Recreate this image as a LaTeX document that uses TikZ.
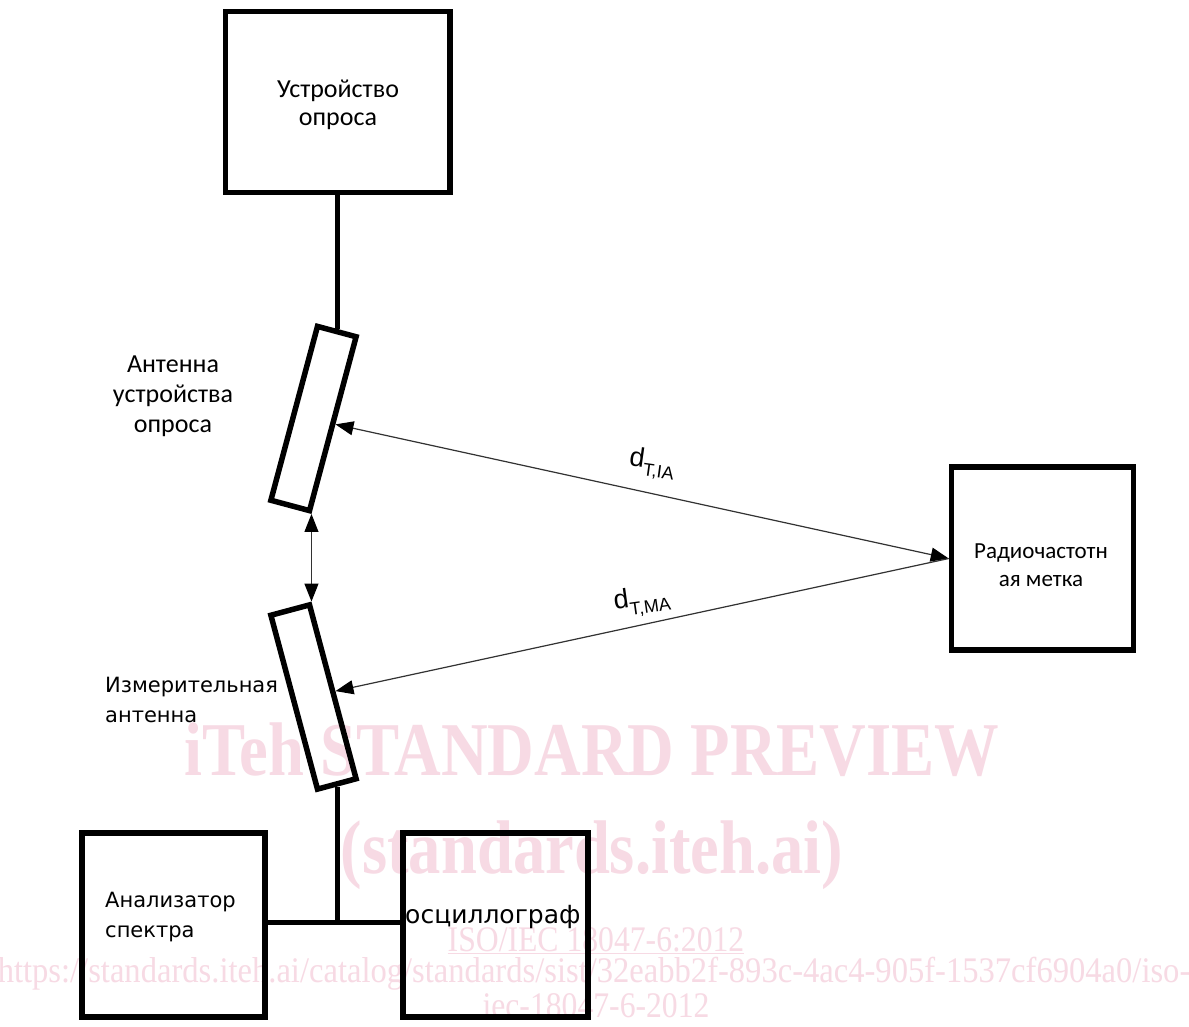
\documentclass[tikz,border=0pt]{standalone}
\usepackage{fontspec}
\setmainfont{Carlito}
\newfontfamily\verd{DejaVu Sans}
\newfontfamily\arialf{Liberation Sans}
\newfontfamily\timesf{Liberation Serif}
\usetikzlibrary{arrows.meta}
\definecolor{wm}{RGB}{247,218,228}
\definecolor{thin}{RGB}{50,50,50}
\begin{document}
\begin{tikzpicture}[x=1pt,y=-1pt,
  box/.style={draw=black, line width=5.5pt, inner sep=0pt, fill=none},
  ant/.style={draw=black, line width=5.5pt, inner sep=0pt, minimum width=40pt, minimum height=180pt},
  wire/.style={line width=5pt, black},
  link/.style={draw=thin, line width=1.2pt, {Triangle[length=18pt,width=14pt,black]}-{Triangle[length=18pt,width=14pt,black]}},
  linkr/.style={draw=thin, line width=1.2pt, {Triangle[length=18pt,width=14pt,black]}-},
  lbl/.style={inner sep=0pt, align=center},
  wmbig/.style={text=wm, inner sep=0pt, font=\timesf\bfseries\fontsize{76}{80}\selectfont, xscale=0.85},
  wmsmall/.style={text=wm, inner sep=0pt, font=\timesf\fontsize{36}{40}\selectfont, xscale=0.88},
  wmurl/.style={text=wm, inner sep=0pt, font=\timesf\fontsize{36}{40}\selectfont, xscale=0.905}
]
\useasboundingbox[fill=white] (0,0) rectangle (1189,1026);

% watermark
\node[wmbig] (wm1) at (592,750) {iTeh STANDARD PREVIEW};
\node[wmbig] (wm2) at (592,855) {(standards.iteh.ai)};
\node[wmsmall] (wm3) at (596,941) {\underline{ISO/IEC 18047-6:2012}};
\node[wmurl] (wm4) at (594,974) {https://standards.iteh.ai/catalog/standards/sist/32eabb2f-893c-4ac4-905f-1537cf6904a0/iso-};
\node[wmsmall] (wm5) at (596,1006) {iec-18047-6-2012};

% boxes
\node[box, minimum width=224.5pt, minimum height=181pt] (dev) at (337.75,102) {};
\node[box, minimum width=182pt, minimum height=183pt] (tag) at (1042.5,558.5) {};
\node[box, minimum width=183pt, minimum height=184pt] (spec) at (173.5,925) {};
\node[box, minimum width=185pt, minimum height=184pt] (osc) at (495.5,925) {};

% antennas
\node[ant, rotate=-15] (ant1) at (313.5,418.5) {};
\node[ant, rotate=15] (ant2) at (313.5,697) {};

% wires
\coordinate (j) at (ant2.south |- 0,922);
\draw[wire] (dev.south) -- (dev.south |- ant1.north);
\draw[wire] (ant2.south) -- (j);
\draw[wire] (j -| spec.east) -- (j -| osc.west);

% radio links
\draw[link] (ant1.east) -- (tag.west);
\draw[linkr] (ant2.east) -- (tag.west);
\draw[link] (ant1.south east) -- (ant2.north east);

% labels
\node[lbl, font=\fontsize{26}{28}\selectfont] (tdev) at (338,105) {Устройство\\опроса};
\node[lbl, font=\fontsize{26}{30}\selectfont] (tant1) at (173,396) {Антенна\\устройства\\опроса};
\node[lbl, align=left, anchor=west, font=\verd\fontsize{21}{30}\selectfont] (tant2) at (105,700) {Измерительная\\антенна};
\node[lbl, font=\fontsize{23}{28}\selectfont] (ttag) at (1041,565) {Радиочастотн\\ая метка};
\node[lbl, align=left, anchor=west, font=\verd\fontsize{21}{30}\selectfont] (tspec) at (105,917) {Анализатор\\спектра};
\node[lbl, anchor=west, font=\verd\fontsize{25}{28}\selectfont] (tosc) at (405,917) {осциллограф};
\node[lbl, rotate=-8, font=\arialf\fontsize{27}{30}\selectfont] (d1) at (652,464) {d\raisebox{-0.32em}{\fontsize{18}{20}\selectfont T,IA}};
\node[lbl, rotate=8, font=\arialf\fontsize{27}{30}\selectfont] (d2) at (642,601) {d\raisebox{-0.32em}{\fontsize{18}{20}\selectfont T,MA}};
\end{tikzpicture}
\end{document}
